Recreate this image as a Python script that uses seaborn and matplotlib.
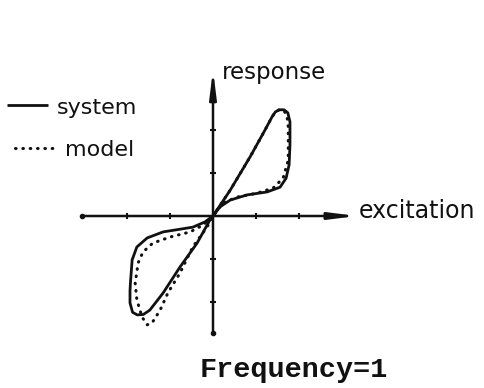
import matplotlib
matplotlib.use("Agg")
import matplotlib.pyplot as plt
import seaborn as sns
import pandas as pd

# Hysteresis loops: excitation vs response, traced in drawing order
# (upper lobe first, then lower lobe, both passing through the origin).
system_excitation = [0.00, 0.40, 0.86, 1.21, 1.37, 1.45, 1.54, 1.65, 1.74, 1.79, 1.79, 1.79, 1.77,
                     1.70, 1.56, 1.26, 0.79, 0.40, 0.16, 0.00,
                     -0.07, -0.37, -0.77, -1.16, -1.47, -1.62, -1.76, -1.87, -1.93, -1.93, -1.92,
                     -1.88, -1.77, -1.53, -1.16, -0.47, -0.19, 0.00]
system_response = [0.00, 0.60, 1.37, 2.00, 2.30, 2.42, 2.47, 2.47, 2.40, 2.19, 1.90, 1.65, 1.19,
                   0.88, 0.67, 0.56, 0.49, 0.37, 0.21, 0.00,
                   -0.09, -0.63, -1.19, -1.79, -2.19, -2.29, -2.30, -2.24, -2.02, -1.75, -1.56,
                   -1.02, -0.72, -0.51, -0.37, -0.26, -0.14, 0.00]

model_excitation = [0.00, 0.40, 0.86, 1.21, 1.37, 1.45, 1.54, 1.65, 1.72, 1.75, 1.75, 1.75, 1.63,
                    1.40, 1.02, 0.56, 0.23, 0.00,
                    -0.14, -0.47, -0.77, -1.05, -1.23, -1.42, -1.53, -1.65, -1.77, -1.81, -1.74,
                    -1.63, -1.40, -1.00, -0.53, -0.23, 0.00]
model_response = [0.00, 0.60, 1.37, 2.00, 2.30, 2.42, 2.47, 2.45, 2.33, 2.07, 1.65, 1.30, 0.88,
                  0.65, 0.53, 0.44, 0.30, 0.00,
                  -0.26, -0.72, -1.33, -1.79, -2.19, -2.49, -2.53, -2.35, -1.95, -1.56, -1.09,
                  -0.84, -0.63, -0.49, -0.37, -0.21, 0.00]

series_labels = ["system", "model"]
axis_ticks = [-2, -1, 1, 2]
caption = "Frequency=1"

sns.set_theme(style="white")
plt.rcParams["font.family"] = ["DejaVu Sans"]

fig = plt.figure(figsize=(4.84, 3.88), dpi=100)
ax = fig.add_axes([0, 0, 1, 1])
ax.set_xlim(-4.953, 6.302)
ax.set_ylim(-4.0, 5.023)
ax.set_axis_off()

ink = "#111111"

system_df = pd.DataFrame({"excitation": system_excitation, "response": system_response})
model_df = pd.DataFrame({"excitation": model_excitation, "response": model_response})

sns.lineplot(data=system_df, x="excitation", y="response", sort=False, estimator=None,
             ax=ax, color=ink, linewidth=2.0, solid_joinstyle="round", solid_capstyle="round")
sns.lineplot(data=model_df, x="excitation", y="response", sort=False, estimator=None,
             ax=ax, color=ink, linewidth=2.2, linestyle=(0, (0.2, 2.2)),
             dash_capstyle="round")

# Coordinate axes with slim arrow heads
arrow_kw = dict(arrowstyle="-|>,head_length=1.6,head_width=0.2", color=ink,
                lw=1.8, mutation_scale=10, shrinkA=0, shrinkB=0)
ax.annotate("", xy=(3.35, 0), xytext=(-3.04, 0), arrowprops=arrow_kw)
ax.annotate("", xy=(0, 3.4), xytext=(0, -2.72), arrowprops=arrow_kw)
ax.plot(axis_ticks, [0] * len(axis_ticks), ls="none", marker="|", ms=4.5, mew=1.5, color=ink)
ax.plot([0] * len(axis_ticks), axis_ticks, ls="none", marker="_", ms=4.5, mew=1.5, color=ink)
ax.plot([-3.04], [0], ls="none", marker="o", ms=3.0, color=ink)
ax.plot([0], [-2.72], ls="none", marker="o", ms=3.0, color=ink)

# Axis names
ax.text(0.21, 3.19, "response", fontsize=16.5, color=ink, ha="left", va="baseline")
ax.text(3.38, -0.05, "excitation", fontsize=17, color=ink, ha="left", va="baseline")

# Hand-drawn key
ax.plot([-4.79, -3.84], [2.58, 2.58], color=ink, lw=2.0, solid_capstyle="butt")
ax.text(-3.63, 2.37, series_labels[0], fontsize=16, color=ink, ha="left", va="baseline")
ax.plot([-4.60, -3.60], [1.58, 1.58], color=ink, lw=2.2, linestyle=(0, (0.2, 2.2)),
        dash_capstyle="round")
ax.text(-3.44, 1.40, series_labels[1], fontsize=16, color=ink, ha="left", va="baseline")

# Caption
ax.text(-0.30, -3.75, caption, fontsize=20.5, color=ink, ha="left", va="baseline",
        family="Liberation Mono", fontweight="bold")

fig.savefig("out.png", dpi=100, facecolor="white")
